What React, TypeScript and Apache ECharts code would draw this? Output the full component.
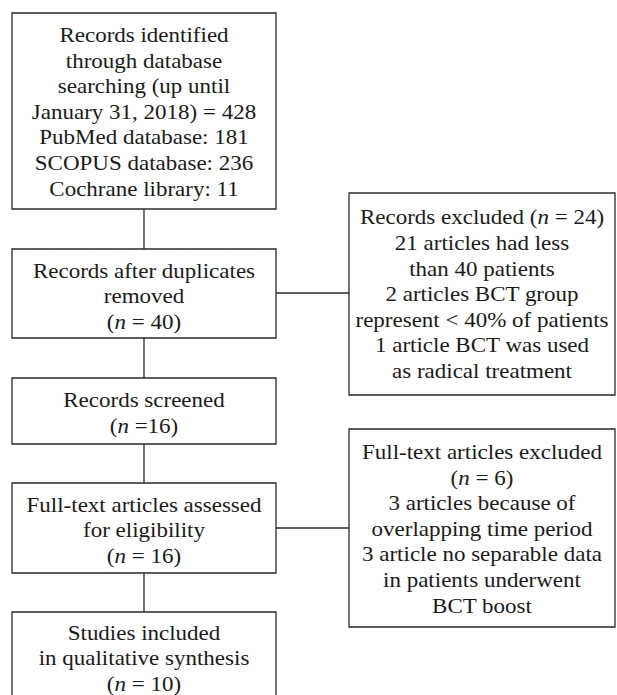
import React, { useEffect, useRef } from "react";
import * as echarts from "echarts";

// ---- content (text of each box) ----
const identifiedLines = [
  "Records identified",
  "through database",
  "searching (up until",
  "January 31, 2018) = 428",
  "PubMed database: 181",
  "SCOPUS database: 236",
  "Cochrane library: 11",
];
const afterDuplicatesLines = ["Records after duplicates", "removed", "({i|n} = 40)"];
const excludedLines = [
  "Records excluded ({i|n} = 24)",
  "21 articles had less",
  "than 40 patients",
  "2 articles BCT group",
  "represent < 40% of patients",
  "1 article BCT was used",
  "as radical treatment",
];
const screenedLines = ["Records screened", "({i|n} =16)"];
const fullTextLines = ["Full-text articles assessed", "for eligibility", "({i|n} = 16)"];
const fullTextExcludedLines = [
  "Full-text articles excluded",
  "({i|n} = 6)",
  "3 articles because of",
  "overlapping time period",
  "3 article no separable data",
  "in patients underwent",
  "BCT boost",
];
const includedLines = ["Studies included", "in qualitative synthesis", "({i|n} = 10)"];

// ---- layout ----
const LEFT_X = 12;
const LEFT_W = 264;
const RIGHT_X = 349;
const RIGHT_W = 266;
const LINE_H = 25.6;
const FONT = "Liberation Serif";
const FONT_SIZE = 21.5;
const TEXT_SCALE_X = 1.07;
const INK = "#1a1a1a";
const STROKE = "#2a2a2a";

type Box = { lines: string[]; x: number; y: number; w: number; h: number; textCY: number };

const boxes: Box[] = [
  { lines: identifiedLines, x: LEFT_X, y: 13, w: LEFT_W, h: 196, textCY: 111.5 },
  { lines: afterDuplicatesLines, x: LEFT_X, y: 249, w: LEFT_W, h: 89, textCY: 296 },
  { lines: excludedLines, x: RIGHT_X, y: 193, w: RIGHT_W, h: 202, textCY: 294 },
  { lines: screenedLines, x: LEFT_X, y: 378, w: LEFT_W, h: 66, textCY: 412.5 },
  { lines: fullTextLines, x: LEFT_X, y: 483, w: LEFT_W, h: 90, textCY: 530 },
  { lines: fullTextExcludedLines, x: RIGHT_X, y: 429, w: RIGHT_W, h: 198, textCY: 528.5 },
  { lines: includedLines, x: LEFT_X, y: 612, w: LEFT_W, h: 92, textCY: 658 },
];

const connectors: [number, number, number, number][] = [
  [144, 209, 144, 249],
  [144, 338, 144, 378],
  [144, 444, 144, 483],
  [144, 573, 144, 612],
  [276, 293, 349, 293],
  [276, 528, 349, 528],
];

export default function App() {
  const ref = useRef<HTMLDivElement>(null);
  useEffect(() => {
    if (!ref.current) return;
    const chart = echarts.init(ref.current, null, { renderer: "svg" });
    const elements: any[] = [];
    connectors.forEach(([x1, y1, x2, y2]) => {
      elements.push({
        type: "line",
        shape: { x1, y1, x2, y2 },
        style: { stroke: STROKE, lineWidth: 1.3 },
        z: 1,
      });
    });
    const base = { fontFamily: FONT, fontSize: FONT_SIZE, fill: INK };
    boxes.forEach((b) => {
      elements.push({
        type: "rect",
        shape: { x: b.x, y: b.y, width: b.w, height: b.h },
        style: { fill: "#ffffff", stroke: STROKE, lineWidth: 1.3 },
        z: 2,
      });
      const n = b.lines.length;
      const cx = b.x + b.w / 2;
      b.lines.forEach((ln, i) => {
        elements.push({
          type: "text",
          x: cx,
          y: b.textCY + (i - (n - 1) / 2) * LINE_H,
          scaleX: TEXT_SCALE_X,
          z: 3,
          style: {
            text: ln,
            ...base,
            align: "center",
            verticalAlign: "middle",
            textAlign: "center",
            textVerticalAlign: "middle",
            rich: {
              i: { ...base, fontStyle: "italic" },
            },
          },
        });
      });
    });
    chart.setOption({
      animation: false,
      backgroundColor: "#ffffff",
      graphic: { elements },
    });
    return () => chart.dispose();
  }, []);
  return (
    <div
      ref={ref}
      style={{ position: "absolute", left: 0, top: 0, width: 617, height: 695, background: "#fff" }}
    />
  );
}
